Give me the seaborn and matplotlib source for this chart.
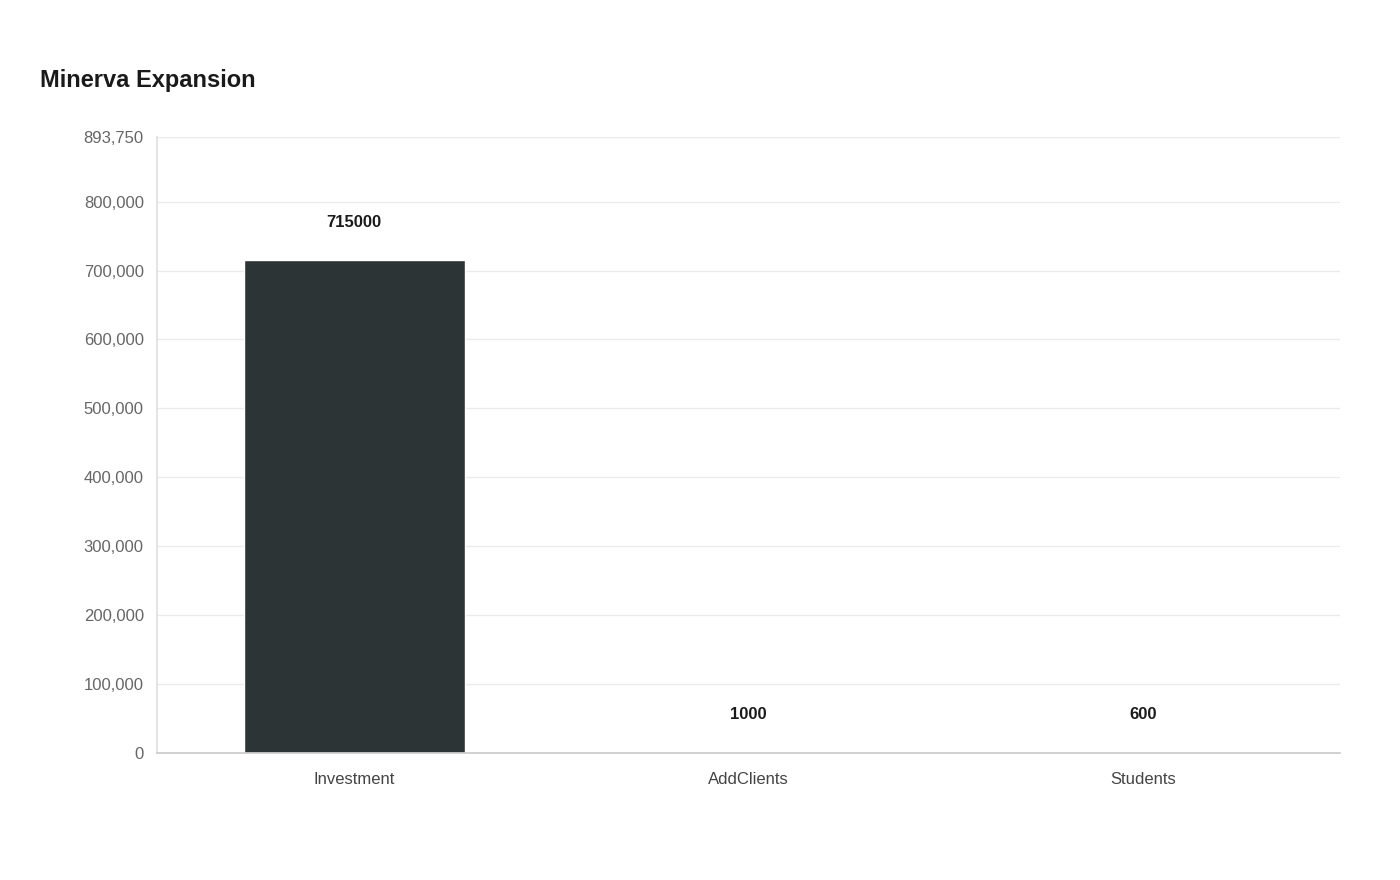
import matplotlib
matplotlib.use("Agg")
import matplotlib.pyplot as plt
import seaborn as sns
import pandas as pd
from matplotlib.ticker import FuncFormatter

categories = ["Investment", "AddClients", "Students"]
values = [715000, 1000, 600]
colors = ["#2d3436", "#dfe6e9", "#b2bec3"]
y_max = 893750
y_ticks = [0, 100000, 200000, 300000, 400000, 500000, 600000, 700000, 800000, 893750]

sns.set_theme(style="white")
plt.rcParams['font.family'] = ['Liberation Sans', 'DejaVu Sans']

df = pd.DataFrame({"cat": categories, "val": values})
fig = plt.figure(figsize=(14, 8.8), dpi=100)
ax = fig.add_axes([157/1400, 1-753/880, (1340-157)/1400, (753-137)/880])

sns.barplot(data=df, x="cat", y="val", hue="cat", palette=colors, width=0.56,
            legend=False, ax=ax, saturation=1)

for i, v in enumerate(values):
    ax.annotate(str(v), (i, v), xytext=(0, 22), textcoords="offset points",
                ha="center", va="bottom", fontsize=12, fontweight="bold", color="#1a1a1a")

ax.set_ylim(0, y_max)
ax.set_xlim(-0.5, 2.5)
ax.set_yticks(y_ticks)
ax.yaxis.set_major_formatter(FuncFormatter(lambda x, p: f"{int(x):,}"))
ax.grid(axis="y", color="#ebebeb", linewidth=1)
ax.set_axisbelow(True)
for s in ["top", "right"]:
    ax.spines[s].set_visible(False)
ax.spines["left"].set_color("#e0e0e0")
ax.spines["bottom"].set_color("#cccccc")
ax.tick_params(axis="y", labelsize=12, labelcolor="#666666", length=6, color="#e0e0e0")
ax.tick_params(axis="x", labelsize=12, labelcolor="#444444", length=0, pad=14)
ax.set_xlabel("")
ax.set_ylabel("")
fig.text(40/1400, 1-80/880, "Minerva Expansion", fontsize=17, fontweight="bold",
         color="#1a1a1a", va="center", ha="left")

fig.savefig("out.png", dpi=100)
